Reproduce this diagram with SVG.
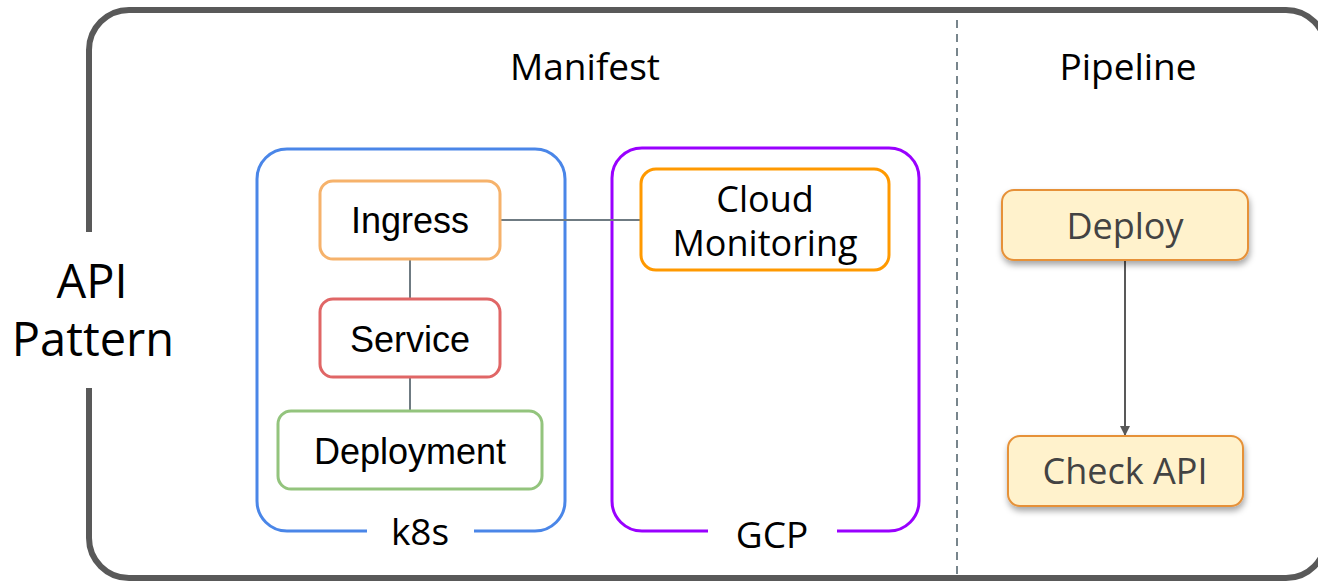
<svg xmlns="http://www.w3.org/2000/svg" width="1318" height="581" viewBox="0 0 1318 581">
<style>
.os{font-family:"Open Sans","Noto Sans","DejaVu Sans",sans-serif;fill:#000;text-anchor:middle}
.ar{font-family:"Liberation Sans",Arial,sans-serif;fill:#000;text-anchor:middle;font-size:36px}
.node{fill:#fff;stroke-width:3}
.pipe{fill:#fff2cc;stroke:#e69138;stroke-width:2;filter:url(#sh)}
.pt{font-family:"Open Sans","Noto Sans",sans-serif;fill:#434343;text-anchor:middle;font-size:36px}
.conn{stroke:#6f7b82;stroke-width:2;fill:none}
</style>
<defs>
<filter id="sh" x="-20%" y="-30%" width="140%" height="170%">
<feDropShadow dx="1" dy="4" stdDeviation="3" flood-color="#000" flood-opacity="0.35"/>
</filter>
<marker id="arr" markerWidth="10" markerHeight="10" refX="9" refY="5" orient="auto" markerUnits="userSpaceOnUse">
<path d="M0,0 L10,5 L0,10 z" fill="#595959"/>
</marker>
</defs>
<g id="outer">
<path d="M89,232 V50 A40,40 0 0 1 129,10 H1286 A40,40 0 0 1 1326,50 V538 A40,40 0 0 1 1286,578 H129 A40,40 0 0 1 89,538 V388" fill="none" stroke="#595959" stroke-width="6"/>
<text class="os" x="92" y="298" font-size="47">API</text>
<text class="os" x="93" y="356" font-size="47">Pattern</text>
</g>
<g id="divider">
<line x1="957" y1="20" x2="957" y2="578" stroke="#78858c" stroke-width="2" stroke-dasharray="8,6"/>
</g>
<text class="os" x="585" y="80" font-size="37">Manifest</text>
<text class="os" x="1128" y="80" font-size="37">Pipeline</text>
<g id="k8s">
<path d="M367,531 H287 A30,30 0 0 1 257,501 V179 A30,30 0 0 1 287,149 H535 A30,30 0 0 1 565,179 V501 A30,30 0 0 1 535,531 H474" fill="none" stroke="#4a86e8" stroke-width="3"/>
<text class="os" x="420" y="545" font-size="37">k8s</text>
</g>
<g id="gcp">
<path d="M708,531 H642 A30,30 0 0 1 612,501 V178 A30,30 0 0 1 642,148 H889 A30,30 0 0 1 919,178 V501 A30,30 0 0 1 889,531 H837" fill="none" stroke="#9900ff" stroke-width="3"/>
<text class="os" x="772" y="548" font-size="37">GCP</text>
</g>
<g id="connectors">
<line class="conn" x1="410" y1="259" x2="410" y2="299"/>
<line class="conn" x1="410" y1="377" x2="410" y2="411"/>
<line class="conn" x1="500" y1="220" x2="641" y2="220"/>
<line x1="1125" y1="261" x2="1125" y2="435" stroke="#595959" stroke-width="2" marker-end="url(#arr)"/>
</g>
<g id="ingress">
<rect class="node" x="320" y="181" width="180" height="78" rx="13" stroke="#f6b26b"/>
<text class="ar" x="410" y="233">Ingress</text>
</g>
<g id="service">
<rect class="node" x="320" y="299" width="180" height="78" rx="13" stroke="#e06666"/>
<text class="ar" x="410" y="352">Service</text>
</g>
<g id="deployment">
<rect class="node" x="278" y="411" width="264" height="78" rx="13" stroke="#93c47d"/>
<text class="ar" x="410" y="464">Deployment</text>
</g>
<g id="cloud-monitoring">
<rect class="node" x="641" y="169" width="248" height="101" rx="15" stroke="#ff9900"/>
<text class="os" x="765" y="212" font-size="36">Cloud</text>
<text class="os" x="765" y="256" font-size="36">Monitoring</text>
</g>
<g id="deploy">
<rect class="pipe" x="1002" y="190" width="246" height="70" rx="12"/>
<text class="pt" x="1125" y="239">Deploy</text>
</g>
<g id="check-api">
<rect class="pipe" x="1008" y="436" width="235" height="70" rx="12"/>
<text class="pt" x="1125" y="484">Check API</text>
</g>
</svg>
